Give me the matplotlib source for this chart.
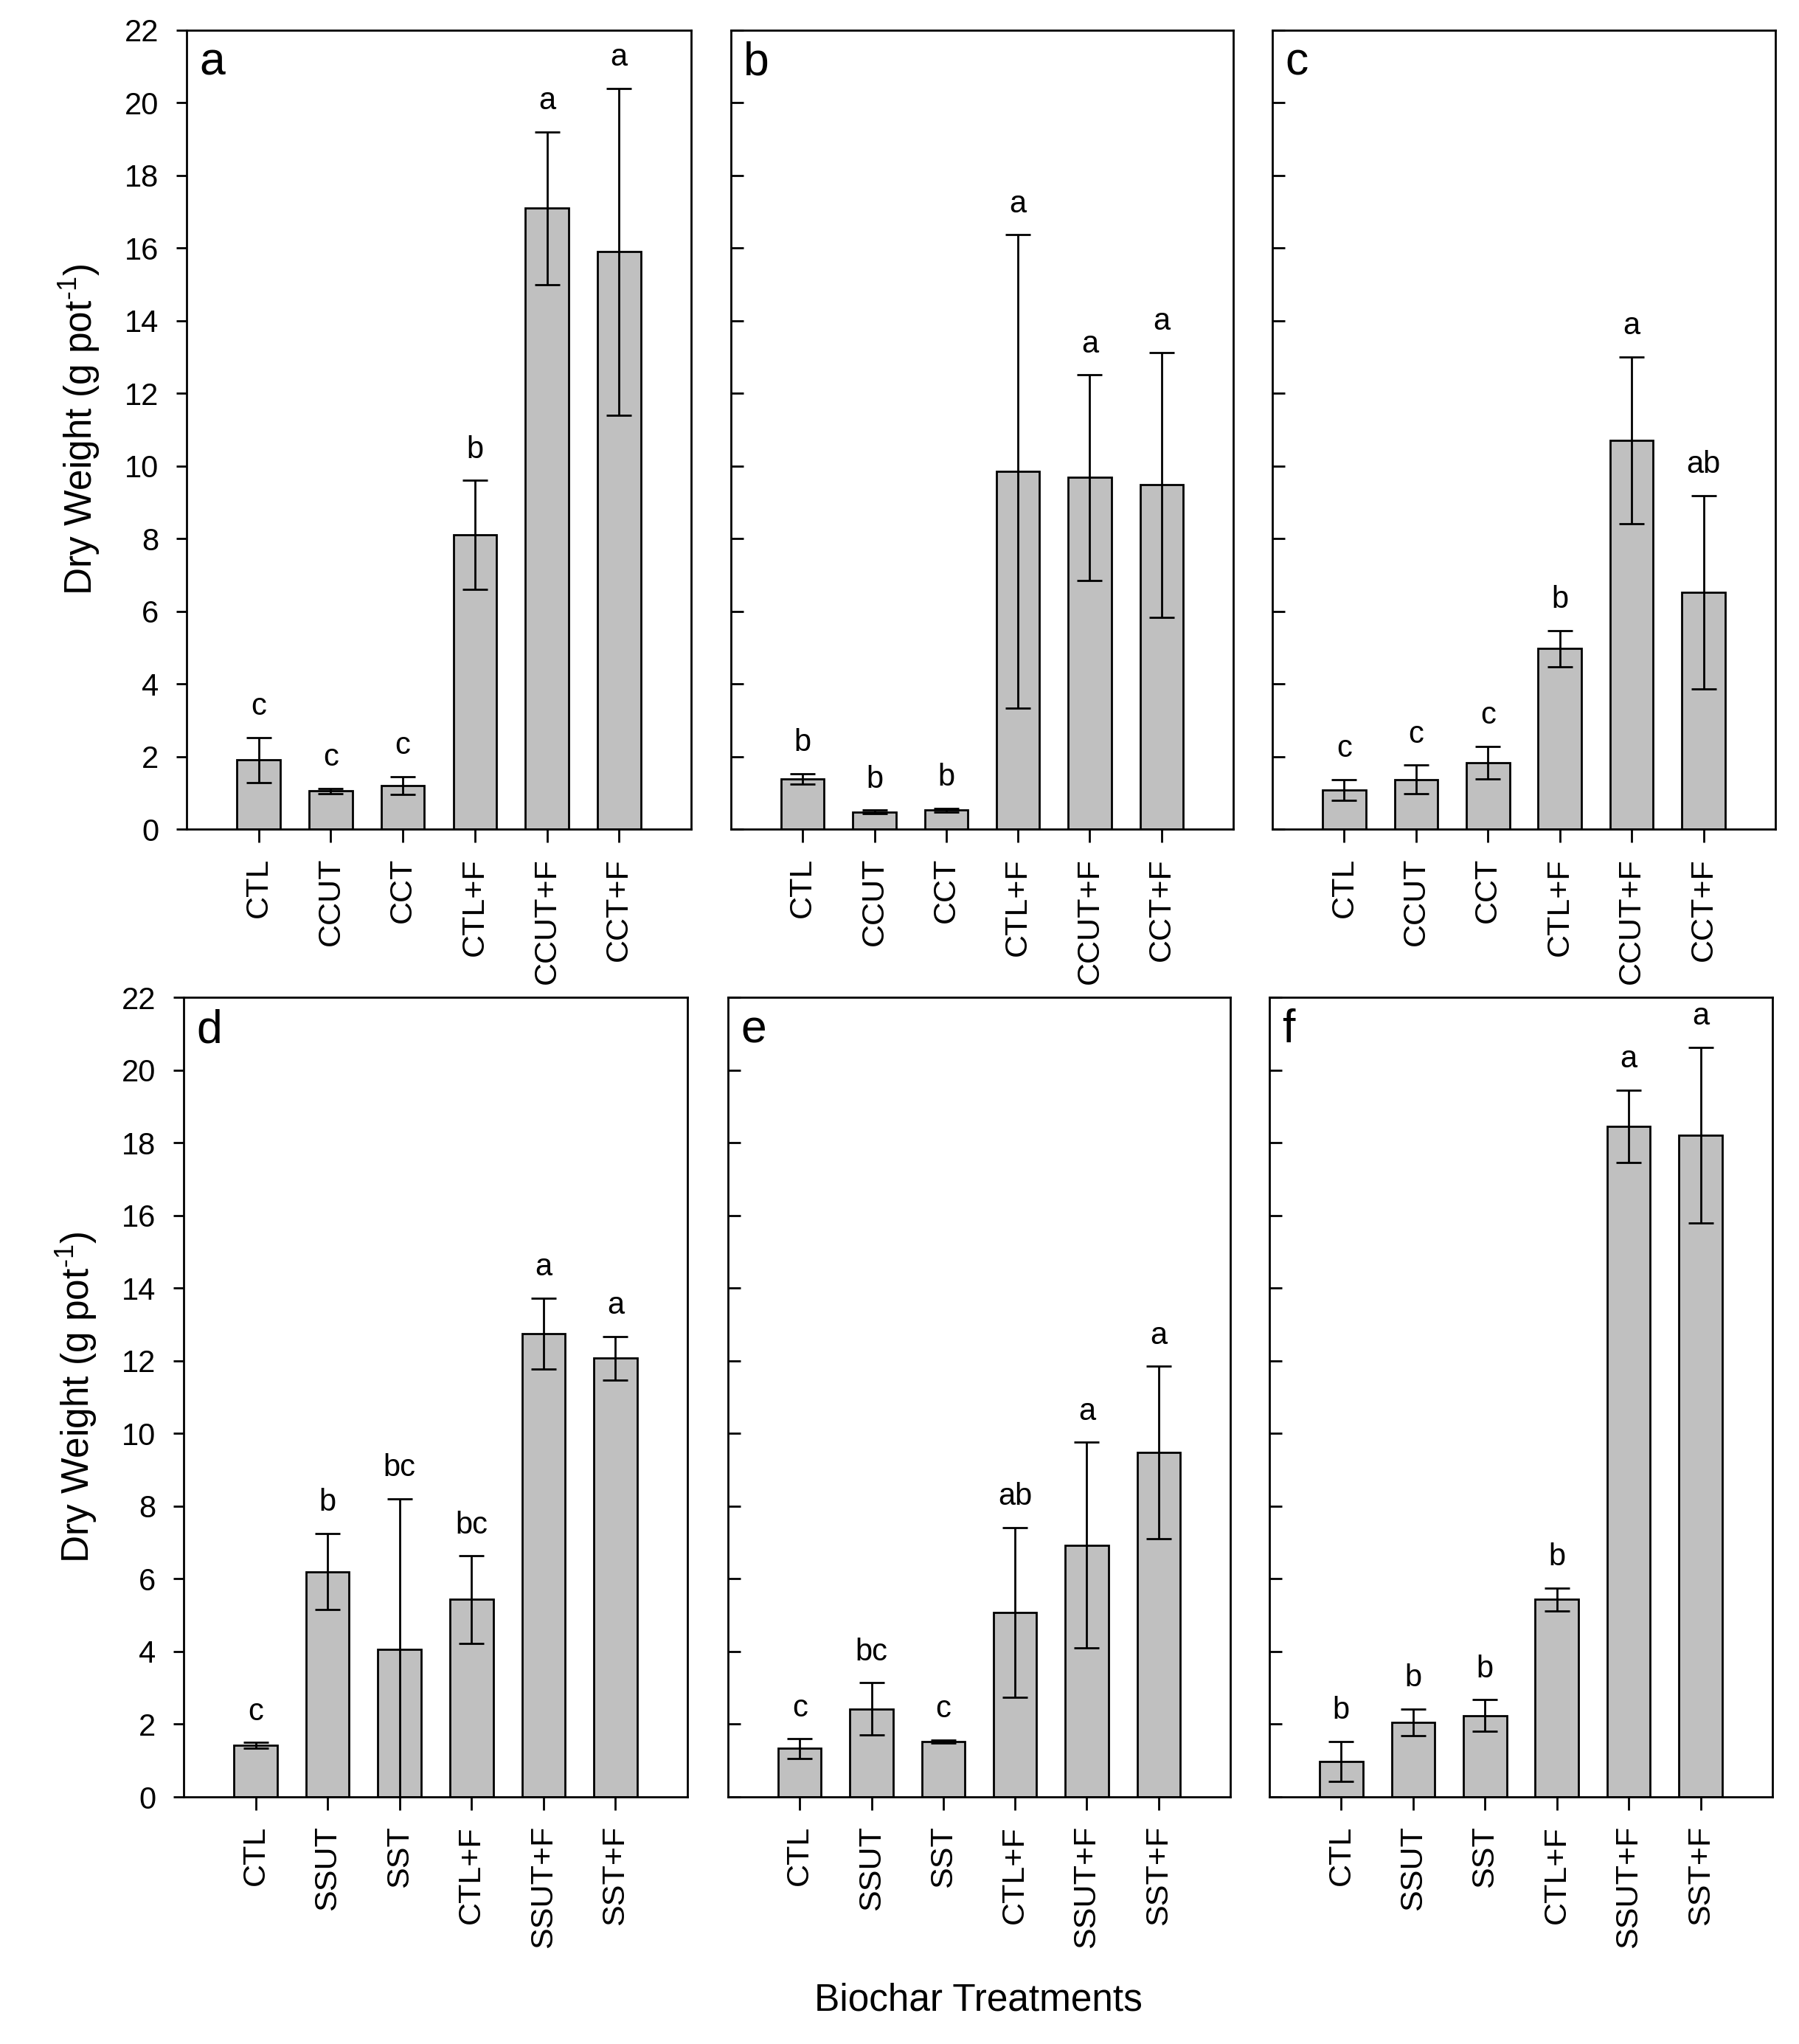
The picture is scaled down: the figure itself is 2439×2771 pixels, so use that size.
import numpy as np
import matplotlib
matplotlib.use('Agg')
import matplotlib.pyplot as plt

plt.rcParams['font.family'] = ['Liberation Sans', 'DejaVu Sans']
plt.rcParams['mathtext.fontset'] = 'custom'
plt.rcParams['mathtext.rm'] = 'Liberation Sans'

# treatments
cats_cc = ['CTL', 'CCUT', 'CCT', 'CTL+F', 'CCUT+F', 'CCT+F']
cats_ss = ['CTL', 'SSUT', 'SST', 'CTL+F', 'SSUT+F', 'SST+F']

# dry weight means, error and letters per panel
mean_a = [1.90, 1.05, 1.20, 8.10, 17.10, 15.90]
err_a = [0.62, 0.07, 0.25, 1.50, 2.10, 4.50]
let_a = ['c', 'c', 'c', 'b', 'a', 'a']

mean_b = [1.38, 0.47, 0.52, 9.85, 9.68, 9.48]
err_b = [0.15, 0.05, 0.05, 6.52, 2.83, 3.65]
let_b = ['b', 'b', 'b', 'a', 'a', 'a']

mean_c = [1.08, 1.37, 1.83, 4.97, 10.70, 6.52]
err_c = [0.29, 0.39, 0.45, 0.50, 2.30, 2.67]
let_c = ['c', 'c', 'c', 'b', 'a', 'ab']

mean_d = [1.42, 6.20, 4.05, 5.43, 12.75, 12.07]
err_d = [0.08, 1.05, 4.15, 1.20, 0.97, 0.60]
let_d = ['c', 'b', 'bc', 'bc', 'a', 'a']

mean_e = [1.33, 2.42, 1.53, 5.08, 6.93, 9.48]
err_e = [0.27, 0.72, 0.04, 2.33, 2.83, 2.37]
let_e = ['c', 'bc', 'c', 'ab', 'a', 'a']

mean_f = [0.98, 2.05, 2.24, 5.43, 18.45, 18.20]
err_f = [0.55, 0.37, 0.43, 0.32, 1.00, 2.42]
let_f = ['b', 'b', 'b', 'b', 'a', 'a']

panels = [
    ('a', cats_cc, mean_a, err_a, let_a),
    ('b', cats_cc, mean_b, err_b, let_b),
    ('c', cats_cc, mean_c, err_c, let_c),
    ('d', cats_ss, mean_d, err_d, let_d),
    ('e', cats_ss, mean_e, err_e, let_e),
    ('f', cats_ss, mean_f, err_f, let_f),
]

W, H = 2439, 2771
fig = plt.figure(figsize=(W / 100, H / 100), dpi=100)

# axes boxes in pixels: left, top, right, bottom
boxes = [
    (253, 41, 937, 1124), (991, 41, 1672, 1124), (1725, 41, 2407, 1124),
    (249, 1352, 932, 2436), (987, 1352, 1668, 2436), (1721, 1352, 2403, 2436),
]

ylab = 'Dry Weight (g pot$^{\\mathregular{\u20101}}$)'

for i, (tag, cats, mean, err, lets) in enumerate(panels):
    l, t, r, b = boxes[i]
    ax = fig.add_axes([l / W, 1 - b / H, (r - l) / W, (b - t) / H])
    x = np.arange(len(cats))
    ax.bar(x, mean, width=0.6, color='#c0c0c0', edgecolor='black', linewidth=2, zorder=2)
    ax.errorbar(x, mean, yerr=err, fmt='none', ecolor='black', elinewidth=2,
                capsize=12, capthick=2, zorder=3)
    for xi, m, e, s in zip(x, mean, err, lets):
        ax.annotate(s, (xi, m + e), xytext=(0, 22), textcoords='offset points',
                    ha='center', va='baseline', fontsize=30)
    ax.set_xlim(-1, 6)
    ax.set_ylim(0, 22)
    ax.set_yticks(np.arange(0, 23, 2))
    ax.set_xticks(x)
    ax.set_xticklabels(cats, rotation=90, fontsize=31)
    ax.tick_params(axis='x', direction='out', length=13, width=2, pad=15)
    if i % 3 == 0:
        ax.tick_params(axis='y', direction='out', length=10, width=2, pad=17, labelsize=30)
        ax.set_ylabel(ylab, fontsize=37)
        ax.yaxis.set_label_coords(-0.167, 0.5)
    else:
        ax.tick_params(axis='y', direction='in', length=12, width=2, labelleft=False)
    for sp in ax.spines.values():
        sp.set_linewidth(2)
    ax.text(0.025, 0.9437, tag, transform=ax.transAxes, fontsize=45,
            ha='left', va='baseline')

fig.text(1326 / W, 1 - 2725 / H, 'Biochar Treatments', fontsize=37,
         ha='center', va='baseline')

fig.savefig('out.png', dpi=100)
